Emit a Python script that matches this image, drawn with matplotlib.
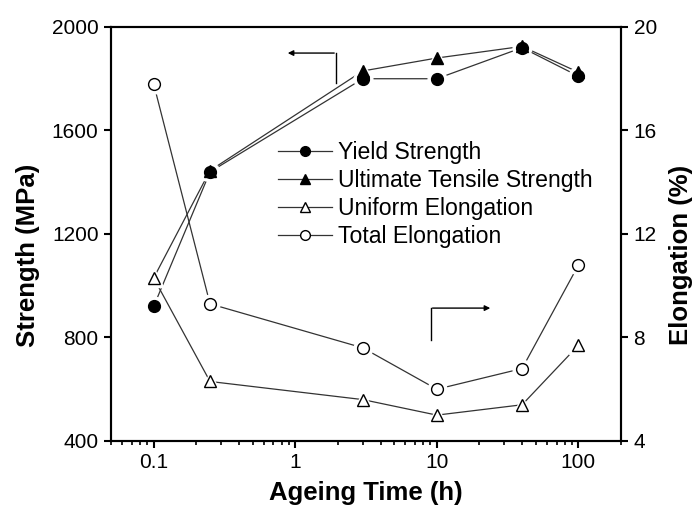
import matplotlib
matplotlib.use("Agg")
import matplotlib.pyplot as plt
from matplotlib.lines import Line2D

plt.rcParams['font.family'] = ['Liberation Sans', 'DejaVu Sans']

# Data
ageing_time = [0.1, 0.25, 3, 10, 40, 100]
yield_strength = [920, 1440, 1800, 1800, 1920, 1810]
uts = [1030, 1445, 1830, 1880, 1925, 1825]
uniform_elong = [10.3, 6.3, 5.6, 5.0, 5.4, 7.7]
total_elong = [17.8, 9.3, 7.6, 6.0, 6.8, 10.8]

x_ticks = [0.1, 1, 10, 100]
x_ticklabels = ["0.1", "1", "10", "100"]
left_ticks = [400, 800, 1200, 1600, 2000]
right_ticks = [4, 8, 12, 16, 20]

fig = plt.figure(figsize=(6.94, 5.09), dpi=100)
ax = fig.add_axes([0.16, 0.1336, 0.7349, 0.8134])
ax2 = ax.twinx()

lc = '#333333'
lw = 0.9
ms = 8.5

def series(a, x, y, marker, fill):
    a.plot(x, y, '-', color=lc, lw=lw, zorder=2)
    a.plot(x, y, linestyle='none', marker=marker, ms=ms + 5, mfc='white',
           mec='white', zorder=3)
    a.plot(x, y, linestyle='none', marker=marker, ms=ms, mfc=fill,
           mec='black', mew=1.0, zorder=4)

series(ax, ageing_time, uts, '^', 'black')
series(ax, ageing_time, yield_strength, 'o', 'black')
series(ax2, ageing_time, uniform_elong, '^', 'white')
series(ax2, ageing_time, total_elong, 'o', 'white')

ax.set_xscale('log')
ax.set_xlim(0.05, 200)
ax.set_ylim(400, 2000)
ax2.set_ylim(4, 20)
ax.set_xticks(x_ticks)
ax.set_xticklabels(x_ticklabels)
ax.set_yticks(left_ticks)
ax2.set_yticks(right_ticks)
ax.minorticks_on()
ax.yaxis.set_minor_locator(matplotlib.ticker.NullLocator())
ax2.yaxis.set_minor_locator(matplotlib.ticker.NullLocator())

for a in (ax, ax2):
    for s in a.spines.values():
        s.set_linewidth(1.5)
ax.tick_params(axis='both', which='major', direction='out', length=5, width=1.5,
               labelsize=15, top=False, pad=4)
ax.tick_params(axis='x', which='minor', direction='out', length=3, width=1.2, top=False)
ax2.tick_params(axis='y', which='major', direction='out', length=5, width=1.5,
                labelsize=15, pad=4)

ax.set_xlabel('Ageing Time (h)', fontsize=18.5, fontweight='bold', labelpad=6)
ax.set_ylabel('Strength (MPa)', fontsize=18.5, fontweight='bold')
ax2.set_ylabel('Elongation (%)', fontsize=18.5, fontweight='bold', rotation=90)
ax.yaxis.set_label_coords(-0.163, 0.449)
ax2.yaxis.set_label_coords(1.118, 0.449)
ax.yaxis.label.set_va('center')
ax2.yaxis.label.set_va('center')

# Direction arrows
ax.plot([0.441, 0.441], [0.865, 0.937], color='black', lw=1.0, transform=ax.transAxes, zorder=5)
ax.annotate('', xy=(0.341, 0.937), xytext=(0.443, 0.937), xycoords='axes fraction',
            arrowprops=dict(arrowstyle='-|>', color='black', lw=1.0, mutation_scale=8))
ax.plot([0.627, 0.627], [0.244, 0.321], color='black', lw=1.0, transform=ax.transAxes, zorder=5)
ax.annotate('', xy=(0.749, 0.321), xytext=(0.625, 0.321), xycoords='axes fraction',
            arrowprops=dict(arrowstyle='-|>', color='black', lw=1.0, mutation_scale=8))

lms = 7
handles = [
    Line2D([], [], color=lc, lw=lw, marker='o', mfc='black', mec='black', ms=lms),
    Line2D([], [], color=lc, lw=lw, marker='^', mfc='black', mec='black', ms=lms),
    Line2D([], [], color=lc, lw=lw, marker='^', mfc='white', mec='black', ms=lms),
    Line2D([], [], color=lc, lw=lw, marker='o', mfc='white', mec='black', ms=lms),
]
labels = ['Yield Strength', 'Ultimate Tensile Strength', 'Uniform Elongation', 'Total Elongation']
leg = ax2.legend(handles, labels, loc='upper left', bbox_to_anchor=(0.327, 0.725),
                 frameon=False, fontsize=16.6, handlelength=2.35, handletextpad=0.27,
                 labelspacing=0.22, borderaxespad=0, borderpad=0)

fig.savefig('out.png', dpi=100)
